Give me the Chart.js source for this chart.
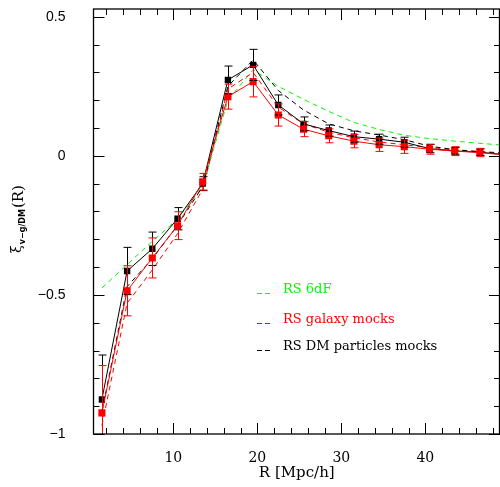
<!DOCTYPE html>
<html>
<head>
<meta charset="utf-8">
<script src="https://cdn.jsdelivr.net/npm/chart.js@4/dist/chart.umd.min.js"></script>
<style>
  html, body { margin: 0; padding: 0; background: #fff; }
  #wrap { width: 500px; height: 487px; }
</style>
</head>
<body>
<div id="wrap"><canvas id="chart"></canvas></div>
<script>
// separations R [Mpc/h]
const R_VALUES = [1.5, 4.5, 7.5, 10.5, 13.5, 16.5, 19.5, 22.5, 25.5, 28.5, 31.5, 34.5, 37.5, 40.5, 43.5, 46.5, 49.5];

// RS DM particles mocks (solid, with error bars)
const DM_MOCKS = [-0.876, -0.414, -0.334, -0.226, -0.100, 0.273, 0.327, 0.183, 0.115, 0.091, 0.069, 0.060, 0.049, 0.026, 0.018, 0.013, 0.004];
const DM_ERR   = [0.16, 0.085, 0.06, 0.04, 0.025, 0.05, 0.056, 0.036, 0.025, 0.02, 0.02, 0.018, 0.018, 0.015, 0.012, 0.012, 0.01];

// RS galaxy mocks (solid, with error bars)
const GAL_MOCKS = [-0.924, -0.485, -0.367, -0.251, -0.093, 0.213, 0.267, 0.147, 0.096, 0.072, 0.053, 0.040, 0.033, 0.024, 0.017, 0.012, 0.003];
const GAL_ERR   = [0.17, 0.09, 0.072, 0.05, 0.03, 0.045, 0.055, 0.04, 0.027, 0.025, 0.024, 0.024, 0.024, 0.018, 0.016, 0.015, 0.012];

// dashed curves
const DM_DASHED  = [-0.92, -0.47, -0.37, -0.25, -0.11, 0.25, 0.345, 0.235, 0.165, 0.115, 0.09, 0.075, 0.058, 0.035, 0.022, 0.014, 0.008];
const GAL_DASHED = [-0.97, -0.53, -0.41, -0.28, -0.12, 0.24, 0.30, 0.175, 0.115, 0.085, 0.065, 0.05, 0.04, 0.03, 0.022, 0.016, 0.01];
const SDF_DASHED = [-0.475, -0.391, -0.307, -0.228, -0.11, 0.20, 0.31, 0.25, 0.203, 0.16, 0.12, 0.095, 0.074, 0.062, 0.053, 0.045, 0.038];

const X_TICKS = [10, 20, 30, 40];
const Y_TICKS = [-1, -0.5, 0, 0.5];

const GREEN = '#11f011';
const RED = '#ff0000';
const BLACK = '#000000';

const LEGEND = [
    { label: 'RS 6dF', color: GREEN },
    { label: 'RS galaxy mocks', color: RED },
    { label: 'RS DM particles mocks', color: BLACK }
];

function pts(ys) {
    return R_VALUES.map((x, i) => ({ x: x, y: ys[i] }));
}

function fmtY(v) {
    if (v === 0) return '0';
    return (v < 0 ? '\u2212' : '') + Math.abs(v);
}

// error bars, frame, inward ticks, titles and legend
const decorPlugin = {
    id: 'decor',
    afterDatasetsDraw(chart) {
        const ctx = chart.ctx;
        const xs = chart.scales.x, ys = chart.scales.y;
        const a = chart.chartArea;

        ctx.save();
        ctx.beginPath();
        ctx.rect(a.left, a.top, a.right - a.left, a.bottom - a.top);
        ctx.clip();
        const bars = [[DM_MOCKS, DM_ERR, BLACK], [GAL_MOCKS, GAL_ERR, RED]];
        bars.forEach(([vals, errs, col]) => {
            ctx.strokeStyle = col;
            ctx.lineWidth = 1;
            R_VALUES.forEach((r, i) => {
                const px = Math.round(xs.getPixelForValue(r)) + 0.5;
                const y1 = ys.getPixelForValue(vals[i] + errs[i]);
                const y2 = ys.getPixelForValue(vals[i] - errs[i]);
                ctx.beginPath();
                ctx.moveTo(px, y1); ctx.lineTo(px, y2);
                ctx.moveTo(px - 4, y1); ctx.lineTo(px + 4, y1);
                ctx.moveTo(px - 4, y2); ctx.lineTo(px + 4, y2);
                ctx.stroke();
            });
        });
        ctx.restore();

        ctx.save();
        ctx.strokeStyle = '#000';
        ctx.lineWidth = 1.3;
        ctx.strokeRect(a.left, a.top, a.right - a.left - 0.5, a.bottom - a.top);
        ctx.lineWidth = 1;
        ctx.beginPath();
        for (let v = 2; v <= 48; v += 2) {
            const len = v % 10 === 0 ? 11 : 6;
            const px = Math.round(xs.getPixelForValue(v)) + 0.5;
            ctx.moveTo(px, a.bottom); ctx.lineTo(px, a.bottom - len);
            ctx.moveTo(px, a.top); ctx.lineTo(px, a.top + len);
        }
        for (let k = -10; k <= 5; k++) {
            const v = k / 10;
            const len = k % 5 === 0 ? 11 : 6;
            const py = Math.round(ys.getPixelForValue(v)) + 0.5;
            ctx.moveTo(a.left, py); ctx.lineTo(a.left + len, py);
            ctx.moveTo(a.right, py); ctx.lineTo(a.right - len, py);
        }
        ctx.stroke();

        // x title
        ctx.fillStyle = '#000';
        ctx.font = '15px "DejaVu Serif"';
        ctx.textAlign = 'center';
        ctx.textBaseline = 'middle';
        ctx.fillText('R [Mpc/h]', (a.left + a.right) / 2, 473);

        // y title
        ctx.save();
        ctx.translate(18, 219);
        ctx.rotate(-Math.PI / 2);
        ctx.textAlign = 'left';
        ctx.textBaseline = 'alphabetic';
        const f1 = '14px "DejaVu Serif"', f2 = 'bold 8px "DejaVu Sans"', f3 = '15px "DejaVu Serif"';
        ctx.font = f1; const w1 = ctx.measureText('\u03be').width;
        ctx.font = f2; const w2 = ctx.measureText('v\u2212g/DM').width;
        ctx.font = f3; const w3 = ctx.measureText('(R)').width;
        let x0 = -(w1 + w2 + w3 + 2) / 2;
        ctx.font = f1; ctx.fillText('\u03be', x0, 3);
        x0 += w1 + 1;
        ctx.font = f2; ctx.fillText('v\u2212g/DM', x0, 7);
        x0 += w2 + 1;
        ctx.font = f3; ctx.fillText('(R)', x0, 5);
        ctx.restore();

        // legend
        const rows = [290, 320, 347];
        ctx.font = '13px "DejaVu Serif"';
        ctx.textAlign = 'left';
        ctx.textBaseline = 'middle';
        LEGEND.forEach((item, i) => {
            const y = rows[i];
            ctx.strokeStyle = item.color;
            ctx.beginPath();
            ctx.moveTo(257, y + 3.5); ctx.lineTo(262, y + 3.5);
            ctx.moveTo(265, y + 3.5); ctx.lineTo(270, y + 3.5);
            ctx.stroke();
            ctx.fillStyle = item.color;
            ctx.fillText(item.label, 283, y);
        });
        ctx.restore();
    }
};

const lineBase = { borderWidth: 1, tension: 0, pointRadius: 0, fill: false };

new Chart(document.getElementById('chart'), {
    type: 'line',
    data: {
        datasets: [
            { ...lineBase, label: 'gal', data: pts(GAL_MOCKS), borderColor: RED,
              pointStyle: 'rect', pointRadius: 5, pointBackgroundColor: RED, pointBorderColor: RED, pointBorderWidth: 0 },
            { ...lineBase, label: 'dm', data: pts(DM_MOCKS), borderColor: BLACK,
              pointStyle: 'rect', pointRadius: 4.5, pointBackgroundColor: BLACK, pointBorderColor: BLACK, pointBorderWidth: 0 },
            { ...lineBase, label: 'dm dashed', data: pts(DM_DASHED), borderColor: BLACK, borderDash: [5, 4] },
            { ...lineBase, label: 'gal dashed', data: pts(GAL_DASHED), borderColor: RED, borderDash: [5, 4] },
            { ...lineBase, label: '6dF', data: pts(SDF_DASHED), borderColor: GREEN, borderDash: [5, 4] }
        ]
    },
    options: {
        responsive: true,
        maintainAspectRatio: false,
        animation: false,
        devicePixelRatio: 1,
        layout: { autoPadding: false, padding: { top: 9, right: 0, left: 0, bottom: 0 } },
        plugins: { legend: { display: false }, tooltip: { enabled: false } },
        scales: {
            x: {
                type: 'linear',
                min: 0.5,
                max: 48.89,
                grid: { display: false },
                border: { display: false },
                afterBuildTicks: s => { s.ticks = X_TICKS.map(v => ({ value: v })); },
                afterFit: s => { s.height = 53; s.paddingLeft = 0; s.paddingRight = 0; },
                ticks: { color: '#000', padding: 8, maxRotation: 0, font: { family: 'DejaVu Serif', size: 14 } }
            },
            y: {
                min: -1,
                max: 0.528,
                grid: { display: false },
                border: { display: false },
                afterBuildTicks: s => { s.ticks = Y_TICKS.map(v => ({ value: v })); },
                afterFit: s => { s.width = 93.5; s.paddingTop = 0; s.paddingBottom = 0; },
                ticks: { color: '#000', padding: 20, font: { family: 'Liberation Sans', size: 14 },
                         callback: v => fmtY(v) }
            }
        }
    },
    plugins: [decorPlugin]
});
</script>
</body>
</html>
